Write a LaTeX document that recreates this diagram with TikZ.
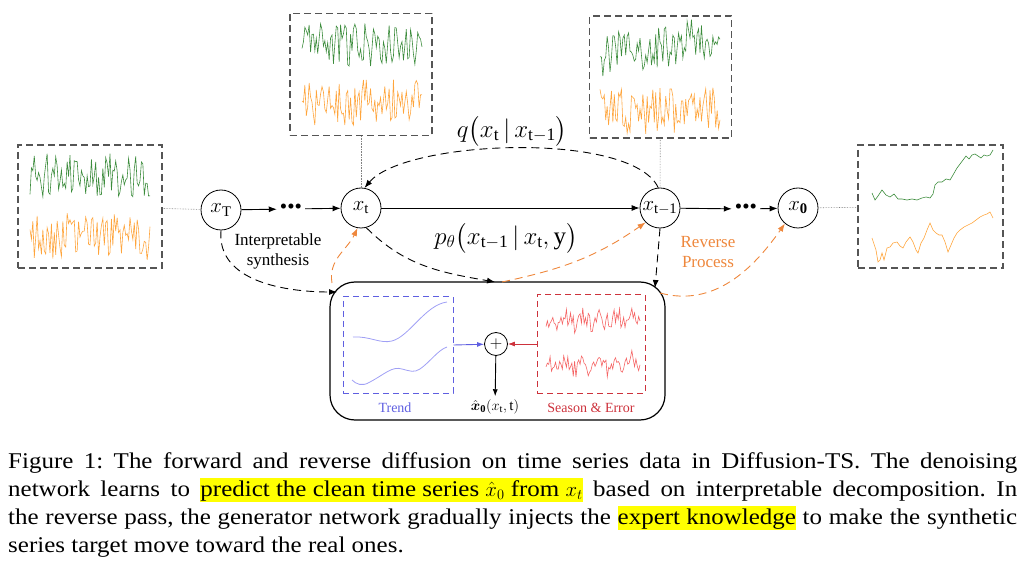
\documentclass[tikz,border=0pt]{standalone}
\usepackage{amsmath}
\usepackage{xcolor}
\usepackage{fontspec}
\setmainfont{Liberation Serif}
\usetikzlibrary{arrows.meta, positioning, calc}

\definecolor{boxgray}{RGB}{85,85,85}
\definecolor{sergreen}{RGB}{60,140,60}
\definecolor{serorange}{RGB}{255,165,60}
\definecolor{revorange}{RGB}{238,135,60}
\definecolor{trendblue}{RGB}{95,95,225}
\definecolor{trendline}{RGB}{160,160,245}
\definecolor{seasonred}{RGB}{205,50,60}
\definecolor{seasonline}{RGB}{245,100,100}
\definecolor{hilite}{RGB}{255,255,0}

% noisy series: x, y, colour, amplitude, slope
\newcommand{\noisyseries}[5]{%
  \draw[#3, line width=0.6pt] plot[variable=\t, domain=0:120, samples=85]
    ({#1+\t},{#2+#5*\t+#4*rand});}
% highlighted words in the caption
\newcommand{\hlbox}[1]{{\fboxsep=0pt\colorbox{hilite}{\rule[-6pt]{0pt}{24pt}#1}}}

\begin{document}
\begin{tikzpicture}[x=1pt, y=1pt,
    state/.style={circle, draw, line width=0.8pt, minimum size=40pt, inner sep=0pt, font=\fontsize{21}{21}\selectfont},
    databox/.style={draw=boxgray, line width=1.3pt, dash pattern=on 7pt off 4pt, minimum width=142pt, minimum height=122pt, inner sep=0pt},
    flow/.style={-{Latex[length=8pt,width=6pt]}, line width=0.9pt},
    dashflow/.style={flow, dash pattern=on 8pt off 5pt},
    revflow/.style={dashflow, draw=revorange, -{Latex[length=8pt,width=6pt,fill=revorange]}},
    link/.style={draw=gray, line width=0.6pt, densely dotted},
    lbl/.style={font=\fontsize{17}{20}\selectfont, align=center},
    dots/.style={font=\fontsize{21}{21}\selectfont, inner sep=3pt}
]
    \useasboundingbox (0,0) rectangle (1025,560);
    \pgfmathsetseed{4711}

    % noisy data boxes
    \node[databox, minimum width=144pt, minimum height=123pt] (noiseT) at (90,353.5) {};
    \node[databox] (noiset) at (361,485.5) {};
    \node[databox] (noisetm) at (660.5,483) {};
    \node[databox, minimum width=145pt, minimum height=123pt] (clean0) at (930.5,353.5) {};

    \noisyseries{30}{385}{sergreen}{22}{0}
    \noisyseries{30}{323}{serorange}{24}{0}
    \noisyseries{302}{515}{sergreen}{22}{0}
    \noisyseries{302}{458}{serorange}{24}{0}
    \noisyseries{600}{505}{sergreen}{22}{0.15}
    \noisyseries{600}{450}{serorange}{24}{0}

    % clean series
    \draw[sergreen, line width=0.6pt] plot coordinates {(872,367) (875,360) (878,364) (882,370) (886,365) (890,363) (894,366) (898,361) (902,361) (907,360) (912,361) (917,360) (922,362) (926,363) (930,362) (933,366) (935,375) (938,378) (942,378) (946,381) (950,380) (953,385) (957,392) (960,396) (963,400) (966,404) (969,401) (972,405) (975,406) (978,404) (981,402) (984,405) (987,404) (990,405) (993,410)};
    \draw[serorange, line width=0.6pt] plot coordinates {(872,322) (874,316) (876,310) (878,298) (880,300) (882,307) (884,300) (887,312) (890,313) (893,317) (897,318) (900,314) (903,312) (906,318) (910,323) (913,318) (916,310) (918,307) (921,317) (924,322) (927,330) (930,337) (933,330) (936,327) (939,325) (942,325) (945,318) (948,308) (951,315) (954,322) (957,327) (960,330) (964,333) (968,335) (972,337) (976,340) (980,343) (984,345) (987,346) (990,348) (993,342)};

    % chain of states
    \node[state] (xT) at (221,350) {$x_{\mathrm{T}}$};
    \node[dots] (d1) at (291,351) {\textbullet\textbullet\textbullet};
    \node[state] (xt) at (361,352) {$x_{\mathrm{t}}$};
    \node[state] (xtm) at (660,352) {$x_{\mathrm{t-1}}$};
    \node[dots] (d2) at (746,351) {\textbullet\textbullet\textbullet};
    \node[state] (x0) at (798,352) {$x_{\mathbf{0}}$};

    \draw[link] (noiseT) -- (xT);
    \draw[link] (noiset) -- (xt);
    \draw[link] (noisetm) -- (xtm);
    \draw[link] (x0) -- (clean0);

    \draw[flow] (xT) -- (d1);
    \draw[flow] (d1) -- (xt);
    \draw[flow] (xt) -- (xtm);
    \draw[flow] (xtm) -- (d2);
    \draw[flow] (d2) -- (x0);

    % labels
    \node[font=\fontsize{25}{25}\selectfont] (qlbl) at (512,429) {$q\big(x_{\mathrm{t}}\,|\,x_{\mathrm{t-1}}\big)$};
    \node[font=\fontsize{25}{25}\selectfont] (plbl) at (506,322) {$p_\theta\big(x_{\mathrm{t-1}}\,|\,x_{\mathrm{t}},\mathrm{y}\big)$};
    \node[lbl] (synlbl) at (278,309) {Interpretable\\synthesis};
    \node[lbl, text=revorange] (revlbl) at (708,308) {Reverse\\Process};

    % denoising network
    \node[draw, line width=1.2pt, rounded corners=25pt, minimum width=335pt, minimum height=138pt] (net) at (497.5,209) {};
    \node[draw=trendblue, line width=1pt, dash pattern=on 6pt off 4pt, minimum width=110pt, minimum height=96pt] (trend) at (398,215) {};
    \node[draw=seasonred, line width=1pt, dash pattern=on 6pt off 4pt, minimum width=108pt, minimum height=98pt] (season) at (591,216) {};
    \node[circle, draw, line width=0.8pt, minimum size=23pt, inner sep=0pt, font=\fontsize{18}{18}\selectfont] (plus) at (496,216) {$+$};
    \node[font=\fontsize{14}{14}\selectfont, text=trendblue] (trendlbl) at (395,152) {Trend};
    \node[font=\fontsize{14}{14}\selectfont, text=seasonred] (seasonlbl) at (591,152) {Season \& Error};
    \node[font=\fontsize{15}{15}\selectfont] (xhat) at (495,153) {$\hat{\boldsymbol{x}}_{\mathbf{0}}(x_{\mathrm{t}},\mathrm{t})$};

    \draw[trendline, line width=0.8pt] (353,223) .. controls (370,224) and (380,216) .. (392,219) .. controls (410,224) and (425,255) .. (447,258);
    \draw[trendline, line width=0.8pt] (352,180) .. controls (356,176) and (362,173) .. (370,178) .. controls (385,186) and (392,194) .. (402,191) .. controls (410,189) and (414,187) .. (420,191) .. controls (430,198) and (438,210) .. (447,213);
    \draw[seasonline, line width=0.6pt] plot[variable=\t, domain=0:94, samples=70] ({546+\t},{238+4*sin(\t*22)+0.06*\t+9*rand});
    \draw[seasonline, line width=0.6pt] plot[variable=\t, domain=0:94, samples=70] ({546+\t},{193+4*sin(\t*22)+0.05*\t+9*rand});

    \draw[-{Latex[length=7pt,width=5pt]}, trendblue, line width=0.9pt] (trend.east) -- (plus);
    \draw[-{Latex[length=7pt,width=5pt]}, seasonred, line width=0.9pt] (season.west) -- (plus);
    \draw[-{Latex[length=7pt,width=5pt]}, line width=0.9pt] (plus) -- (xhat);

    % guidance and reverse process
    \coordinate (boxtl) at (337,268);
    \coordinate (boxtlo) at (332,277);
    \coordinate (boxtop) at (495,278);
    \coordinate (boxtopo) at (502,278);
    \coordinate (boxtr) at (655,272);
    \coordinate (boxtro) at (660,267);
    \draw[dashflow] (xT.south) to[out=-95, in=180] (boxtl);
    \draw[revflow] (boxtlo) to[out=100, in=-115] (xt.-100);
    \draw[dashflow] (xt.-75) to[out=-45, in=170] (boxtop);
    \draw[revflow] (boxtopo) to[out=12, in=-145] (xtm.-135);
    \draw[dashflow] (xtm.south) -- (boxtr);
    \draw[revflow] (boxtro) to[out=-15, in=-125] (x0.-130);
    \draw[dashflow] (xtm.95) to[out=115, in=50, looseness=0.55] (xt.80);

    % caption
    \node[anchor=north west, inner sep=0pt, text width=1009pt, align=justify, font=\fontsize{22.5}{28}\selectfont\addfontfeatures{FakeStretch=1.11}\frenchspacing] (caption) at (8,108) {Figure 1: The forward and reverse diffusion on time series data in Diffusion-TS. The denoising\linebreak network learns to \hlbox{predict the clean time series $\hat{x}_0$ from $x_t$} based on interpretable decomposition. In\linebreak the reverse pass, the generator network gradually injects the \hlbox{expert knowledge} to make the synthetic\linebreak series target move toward the real ones.};
\end{tikzpicture}
\end{document}
